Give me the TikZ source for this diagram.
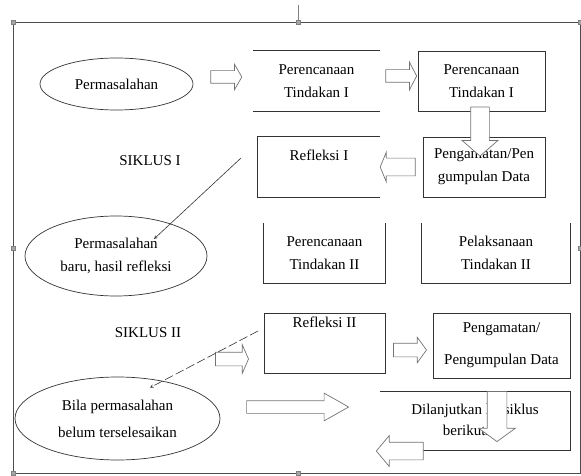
\documentclass[tikz,border=0pt]{standalone}
\usepackage{fontspec}
\setmainfont{Liberation Serif}
\usetikzlibrary{shapes.geometric,shapes.arrows}

\begin{document}
\begin{tikzpicture}[x=1pt,y=-1pt,>=stealth,
    box/.style={rectangle,minimum width=122pt,minimum height=60pt,align=center,inner sep=0pt,font=\fontsize{15}{23}\selectfont},
    oval/.style={ellipse,draw=black!80,line width=0.7pt,align=center,inner sep=0pt,font=\fontsize{15}{23}\selectfont},
    label text/.style={inner sep=0pt,font=\fontsize{15}{23}\selectfont},
    edges/.style={draw=black!80,line width=0.8pt},
    block arrow/.style={single arrow,draw=black!55,fill=white,line width=0.7pt,inner xsep=0pt},
    handle/.style={rectangle,draw=gray,fill=gray!70,minimum size=4pt,inner sep=0pt}]
    \useasboundingbox (0,0) rectangle (581,476);

    % frame with its handles
    \draw[black!70,line width=0.8pt] (13,22) rectangle (580,473);
    \node [handle](h1) at (13,22){};
    \node [handle](h2) at (298,22){};
    \node [handle](h3) at (580,22){};
    \node [handle](h4) at (13,248){};
    \node [handle](h5) at (580,248){};
    \node [handle](h6) at (13,473){};
    \node [handle](h7) at (298,473){};
    \coordinate (stem) at (298,5);
    \draw[gray,line width=0.8pt] (stem) -- (h2);

    % siklus I
    \node [oval,minimum width=153pt,minimum height=52pt](e1) at (116.5,84){Permasalahan};
    \node [box,minimum width=127pt](b1) at (316.5,81){Perencanaan\\Tindakan I};
    \node [box,minimum width=127pt,edges](b2) at (481.5,81){Perencanaan\\Tindakan I};
    \node [box](r1) at (319,167){};
    \node [label text,anchor=north](r1t) at ([yshift=-13pt]r1.north){Refleksi I};
    \node [box,edges](g1) at (484,167){Pengamatan/Pen\\gumpulan Data};
    \node [label text](s1) at (150,161){SIKLUS I};

    \draw[edges] (b1.north west) -- (b1.north east) (b1.south west) -- (b1.south east);
    \draw[edges] (r1.north east) -- (r1.north west) -- (r1.south west) -- (r1.south east);

    % siklus II
    \node [oval,minimum width=182pt,minimum height=80pt](e2) at (116,256){Permasalahan\\baru, hasil refleksi};
    \node [box,minimum width=121pt](p2) at (324.5,253){Perencanaan\\Tindakan II};
    \node [box,minimum width=148pt](l2) at (496,253){Pelaksanaan\\Tindakan II};
    \node [box,minimum width=121pt,edges](r2) at (324.5,343){};
    \node [label text,anchor=north](r2t) at ([yshift=-4pt]r2.north){Refleksi II};
    \node [box,minimum width=137pt,minimum height=65pt,edges](g2) at (501.5,345.5){Pengamatan/\\[9pt]Pengumpulan Data};
    \node [label text](s2) at (148,333){SIKLUS II};
    \node [oval,minimum width=205pt,minimum height=83pt](e3) at (117.5,418.5){Bila permasalahan\\[4pt]belum terselesaikan};
    \node [box,minimum width=190pt,minimum height=58pt,font=\fontsize{15}{21}\selectfont](d) at (475,421){Dilanjutkan ke siklus\\berikutnya};

    \draw[edges] (p2.north west) -- (p2.south west) -- (p2.south east) -- (p2.north east);
    \draw[edges] (l2.north west) -- (l2.south west) -- (l2.south east) -- (l2.north east);
    \draw[edges] (d.north west) -- (d.north east) -- (d.south east) -- (d.south west);

    % block arrows
    \node [block arrow,minimum height=31pt,inner ysep=6pt,single arrow head extend=6.5pt,single arrow tip angle=120](a1) at (224.5,77){};
    \node [block arrow,minimum height=31pt,inner ysep=6pt,single arrow head extend=7.5pt,single arrow tip angle=125](a2) at (399.5,76){};
    \node [block arrow,minimum height=49pt,inner ysep=9pt,single arrow head extend=8.5pt,single arrow tip angle=98,rotate=270](a3) at (480,127.5){};
    \node [block arrow,minimum height=35pt,inner ysep=8.5pt,single arrow head extend=6pt,single arrow tip angle=135,rotate=180](a4) at (399.5,167){};
    \node [block arrow,minimum height=33pt,inner ysep=6.5pt,single arrow head extend=7.5pt,single arrow tip angle=133](a5) at (230.5,359){};
    \node [block arrow,minimum height=33pt,inner ysep=6.5pt,single arrow head extend=6pt,single arrow tip angle=108](a6) at (407.5,350){};
    \node [block arrow,minimum height=102pt,inner ysep=6pt,single arrow head extend=7.5pt,single arrow tip angle=59](a7) at (292,407){};
    \node [block arrow,minimum height=50pt,inner ysep=9.5pt,single arrow head extend=8.5pt,single arrow tip angle=108,rotate=270](a8) at (497,413){};
    \node [block arrow,minimum height=47pt,inner ysep=8.5pt,single arrow head extend=6.5pt,single arrow tip angle=100,rotate=180](a9) at (403.5,451){};

    % thin arrows
    \coordinate (t1) at (241,158);
    \coordinate (t2) at (258,331);
    \draw[->,black!80,line width=0.6pt] (t1) -- ([xshift=38pt,yshift=17pt]e2.center);
    \draw[->,black!80,line width=0.6pt,dash pattern=on 9pt off 3pt] (t2) -- ([xshift=32.5pt,yshift=-11pt]e3.north);
\end{tikzpicture}
\end{document}
